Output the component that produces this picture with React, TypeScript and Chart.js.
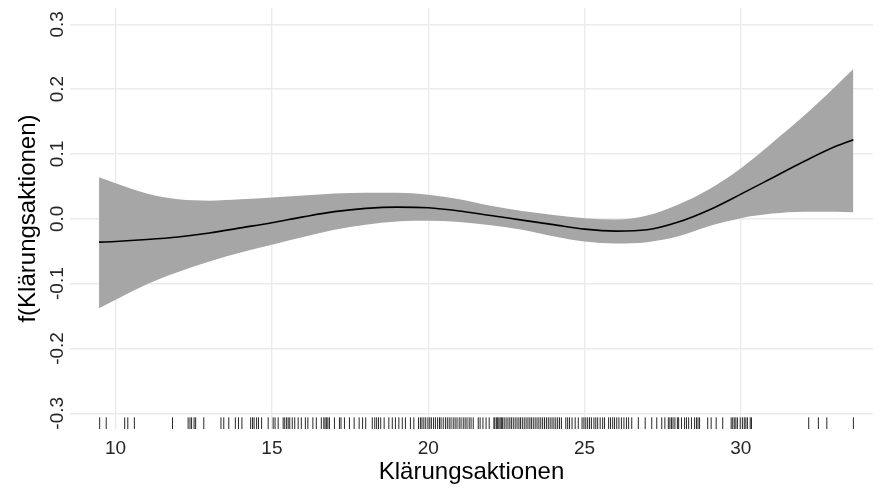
import React, { useEffect, useRef } from "react";
import { Chart, registerables } from "chart.js";

Chart.register(...registerables);

const X_VALUES = [9.47, 10, 11, 12, 13, 14, 15, 16, 17, 18, 19, 20, 21, 22, 23, 24, 25, 26, 27, 28, 29, 30, 31, 32, 33, 33.6];
const FIT = [-0.036, -0.035, -0.032, -0.028, -0.022, -0.014, -0.006, 0.003, 0.011, 0.016, 0.018, 0.017, 0.012, 0.005, -0.002, -0.009, -0.016, -0.019, -0.017, -0.005, 0.014, 0.038, 0.063, 0.088, 0.111, 0.122];
const UPPER = [0.064, 0.055, 0.039, 0.030, 0.028, 0.030, 0.033, 0.036, 0.039, 0.04, 0.04, 0.037, 0.03, 0.02, 0.012, 0.006, 0.001, -0.001, 0.005, 0.022, 0.046, 0.078, 0.117, 0.158, 0.203, 0.231];
const LOWER = [-0.138, -0.125, -0.101, -0.082, -0.066, -0.052, -0.04, -0.028, -0.017, -0.009, -0.004, -0.003, -0.005, -0.01, -0.017, -0.027, -0.035, -0.038, -0.036, -0.027, -0.011, 0.001, 0.008, 0.011, 0.011, 0.01];

const RUG = [
  9.49, 9.7, 10.29, 10.39, 10.6, 11.82, 12.32, 12.38, 12.43, 12.51, 12.56, 12.82,
  13.37, 13.46, 13.62, 13.83, 13.93, 14.04, 14.32, 14.38, 14.43, 14.51, 14.57, 14.67,
  14.88, 15.04, 15.1, 15.2, 15.36, 15.41, 15.47, 15.52, 15.57, 15.65, 15.73, 15.84,
  15.94, 16.07, 16.15, 16.31, 16.42, 16.58, 16.66, 16.7, 16.75, 16.79, 16.84, 17.0,
  17.16, 17.21, 17.32, 17.48, 17.63, 17.79, 17.9, 18.0, 18.21, 18.29, 18.35, 18.41,
  18.48, 18.59, 18.74, 18.85, 18.95, 19.06, 19.17, 19.27, 19.43, 19.54,
  19.69, 19.75, 19.8, 19.86, 19.92, 19.99, 20.05, 20.1, 20.17, 20.23, 20.3, 20.36,
  20.41, 20.48, 20.55, 20.61, 20.67, 20.73, 20.8, 20.86, 20.92, 20.99, 21.05, 21.12,
  21.18, 21.24, 21.31, 21.37, 21.44, 21.6, 21.66, 21.75, 21.85, 21.95, 22.1, 22.13,
  22.18, 22.22, 22.26, 22.3, 22.34, 22.38, 22.43, 22.49, 22.55, 22.61, 22.66, 22.72,
  22.78, 22.84, 22.9, 22.95, 23.01, 23.07, 23.13, 23.19, 23.25, 23.3, 23.36, 23.42,
  23.48, 23.54, 23.6, 23.66, 23.72, 23.78, 23.84, 23.9, 23.96, 24.02, 24.08, 24.14,
  24.2, 24.26, 24.4, 24.46, 24.52, 24.6, 24.7, 24.8, 24.92, 24.98, 25.04, 25.1,
  25.16, 25.22, 25.3, 25.36, 25.42, 25.5, 25.58, 25.64, 25.77, 25.83, 25.9, 25.96,
  26.03, 26.1, 26.18, 26.26, 26.34, 26.41, 26.51, 26.72, 26.94, 27.15, 27.31, 27.47,
  27.57, 27.68, 27.73, 27.78, 27.83, 27.89, 27.97, 28.01, 28.1, 28.2, 28.26, 28.33,
  28.42, 28.52, 28.58, 28.63, 28.68, 28.94, 29.05, 29.21, 29.42, 29.69, 29.74, 29.79,
  29.84, 29.89, 29.98, 30.05, 30.11, 30.16, 30.21, 30.3, 30.34, 32.17, 32.48, 32.75,
  33.6,
];
const RUG_Y = -0.3155;

const X_TICKS = [10, 15, 20, 25, 30];
const X_TICK_LABELS = ["10", "15", "20", "25", "30"];
const Y_TICKS = [-0.3, -0.2, -0.1, 0, 0.1, 0.2, 0.3];
const Y_TICK_LABELS = ["-0.3", "-0.2", "-0.1", "0.0", "0.1", "0.2", "0.3"];

const X_TITLE = "Klärungsaktionen";
const Y_TITLE = "f(Klärungsaktionen)";

const FONT = "'Liberation Sans', Arial, Helvetica, sans-serif";
const TICK_COLOR = "#262626";
const GRID_COLOR = "#EBEBEB";

const yTickLabelPlugin = {
  id: "yTickLabels",
  afterDraw(chart: any) {
    const y = chart.scales.y;
    const ctx = chart.ctx;
    ctx.save();
    ctx.font = `19px ${FONT}`;
    ctx.fillStyle = TICK_COLOR;
    ctx.textAlign = "center";
    ctx.textBaseline = "alphabetic";
    Y_TICKS.forEach((v, i) => {
      const py = y.getPixelForValue(v);
      ctx.save();
      ctx.translate(62.5, py);
      ctx.rotate(-Math.PI / 2);
      ctx.fillText(Y_TICK_LABELS[i], 0, 0);
      ctx.restore();
    });
    ctx.restore();
  },
};

export default function App() {
  const ref = useRef<HTMLCanvasElement | null>(null);

  useEffect(() => {
    if (!ref.current) return;
    const pts = (ys: number[]) => X_VALUES.map((x, i) => ({ x, y: ys[i] }));
    const chart = new Chart(ref.current, {
      type: "line",
      data: {
        datasets: [
          {
            label: "fit",
            data: pts(FIT),
            borderWidth: 1.6,
            borderColor: "#000000",
            pointRadius: 0,
            fill: false,
            cubicInterpolationMode: "monotone",
          },
          {
            label: "upper",
            data: pts(UPPER),
            borderWidth: 0,
            borderColor: "rgba(0,0,0,0)",
            backgroundColor: "#A6A6A6",
            pointRadius: 0,
            fill: "+1",
            cubicInterpolationMode: "monotone",
          },
          {
            label: "lower",
            data: pts(LOWER),
            borderWidth: 0,
            borderColor: "rgba(0,0,0,0)",
            backgroundColor: "#A6A6A6",
            pointRadius: 0,
            fill: false,
            cubicInterpolationMode: "monotone",
          },
          {
            label: "rug",
            data: RUG.map((x) => ({ x, y: RUG_Y })),
            showLine: false,
            pointStyle: "line",
            rotation: 90,
            pointRadius: 6,
            pointBorderWidth: 1,
            borderWidth: 1,
            pointBorderColor: "rgba(0,0,0,0.85)",
            borderColor: "rgba(0,0,0,0.85)",
            fill: false,
          } as any,
        ],
      },
      options: {
        animation: false,
        responsive: false,
        devicePixelRatio: 1,
        layout: { padding: { top: 8, right: 0, left: 0, bottom: 0 } },
        plugins: {
          legend: { display: false },
          tooltip: { enabled: false },
        },
        elements: { point: { hoverRadius: 0 } },
        scales: {
          x: {
            type: "linear",
            min: 8.541,
            max: 34.227,
            border: { display: false },
            grid: { color: GRID_COLOR, lineWidth: 1.4, drawTicks: false },
            afterBuildTicks: (scale: any) => {
              scale.ticks = X_TICKS.map((value) => ({ value }));
            },
            afterFit: (scale: any) => {
              scale.height = 63;
            },
            ticks: {
              padding: 8,
              color: TICK_COLOR,
              font: { size: 19, family: FONT },
              maxRotation: 0,
              autoSkip: false,
              callback: (value: any) => {
                const i = X_TICKS.indexOf(Number(value));
                return i >= 0 ? X_TICK_LABELS[i] : "";
              },
            },
            title: {
              display: true,
              text: X_TITLE,
              color: "#000000",
              font: { size: 24, family: FONT },
              padding: { top: 0, bottom: 5 },
            },
          },
          y: {
            type: "linear",
            min: -0.3242,
            max: 0.3251,
            border: { display: false },
            grid: { color: GRID_COLOR, lineWidth: 1.4, drawTicks: false },
            afterBuildTicks: (scale: any) => {
              scale.ticks = Y_TICKS.map((value) => ({ value }));
            },
            afterFit: (scale: any) => {
              scale.width = 70;
            },
            ticks: { display: false },
            title: {
              display: true,
              text: Y_TITLE,
              color: "#000000",
              font: { size: 24, family: FONT },
              padding: { top: 13.5, bottom: 0 },
            },
          },
        },
      },
      plugins: [yTickLabelPlugin],
    } as any);
    return () => chart.destroy();
  }, []);

  return (
    <div style={{ position: "fixed", left: 0, top: 0, width: 880, height: 492, background: "#ffffff" }}>
      <canvas ref={ref} width={880} height={492} style={{ display: "block" }} />
    </div>
  );
}
